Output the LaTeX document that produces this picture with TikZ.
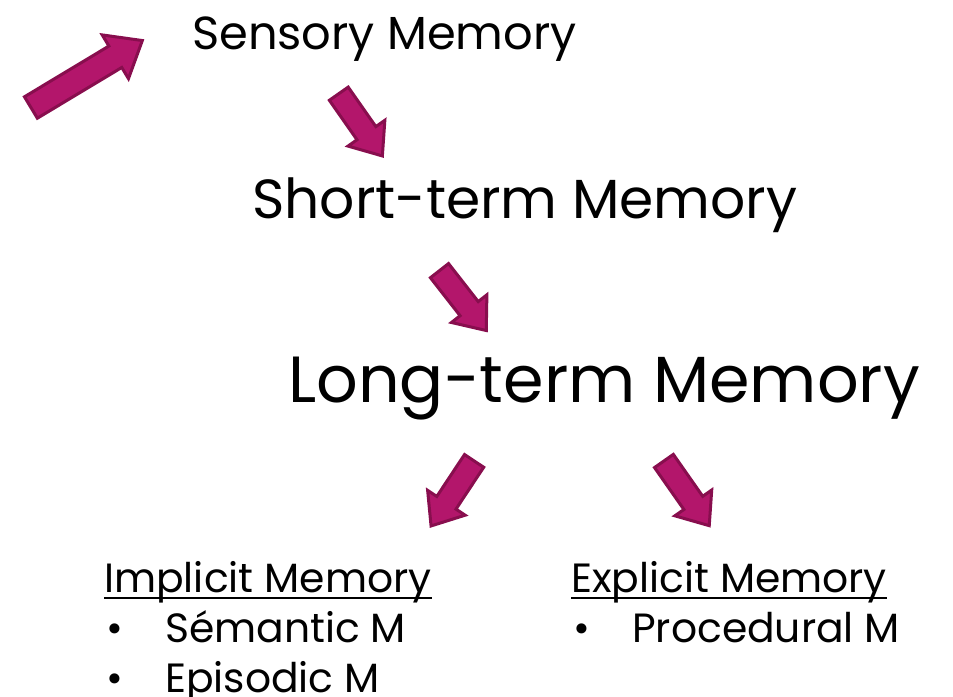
\documentclass[tikz,border=0pt]{standalone}
\usepackage{fontspec}
\setmainfont{Poppins}
\usetikzlibrary{shapes.arrows}
\definecolor{plum}{HTML}{B3166B}
\definecolor{plumdark}{HTML}{880E4E}
\tikzset{
    blockarrow/.style={single arrow, fill=plum, draw=plumdark, line width=3bp,
        inner xsep=0pt, inner ysep=10bp, single arrow head extend=11bp,
        single arrow tip angle=78},
    label/.style={anchor=base west, inner sep=0pt}
}
\begin{document}
\begin{tikzpicture}[x=1bp,y=-1bp]
    \useasboundingbox (0,0) rectangle (953,697);
    % levels
    \node[label, font=\fontsize{46.5}{46.5}\selectfont] (sens) at (192,50) {Sensory Memory};
    \node[label, font=\fontsize{55.3}{55.3}\selectfont] (short) at (252,218) {Short-term Memory};
    \node[label, font=\fontsize{65.5}{65.5}\selectfont] (long) at (288,402) {Long-term Memory};
    % arrows
    \node[blockarrow, inner ysep=11bp, single arrow head extend=13bp, minimum height=130bp, rotate=31] (a1) at (80,78) {};
    \node[blockarrow, minimum height=76bp, rotate=-55] (a2) at (356.5,119) {};
    \node[blockarrow, minimum height=76bp, rotate=-52] (a3) at (458.5,295) {};
    \node[blockarrow, minimum height=78bp, rotate=-123.5] (a4) at (456.5,487.5) {};
    \node[blockarrow, minimum height=79bp, rotate=-55] (a5) at (682.5,487.5) {};
    % implicit
    \node[label, font=\fontsize{41}{41}\selectfont] (impl) at (104,592) {Implicit Memory};
    \draw[line width=2bp] ([yshift=-6bp]impl.base west) -- ([yshift=-6bp]impl.base east);
    \node[label, font=\fontsize{41}{41}\selectfont] (b1) at (106,642) {•};
    \node[label, font=\fontsize{41}{41}\selectfont] (sem) at (165,642) {Sémantic M};
    \node[label, font=\fontsize{41}{41}\selectfont] (b2) at (106,692) {•};
    \node[label, font=\fontsize{41}{41}\selectfont] (epi) at (165,692) {Episodic M};
    % explicit
    \node[label, font=\fontsize{41}{41}\selectfont] (expl) at (571,592) {Explicit Memory};
    \draw[line width=2bp] ([yshift=-6bp]expl.base west) -- ([yshift=-6bp]expl.base east);
    \node[label, font=\fontsize{41}{41}\selectfont] (b3) at (573,642) {•};
    \node[label, font=\fontsize{41}{41}\selectfont] (proc) at (632,642) {Procedural M};
\end{tikzpicture}
\end{document}
